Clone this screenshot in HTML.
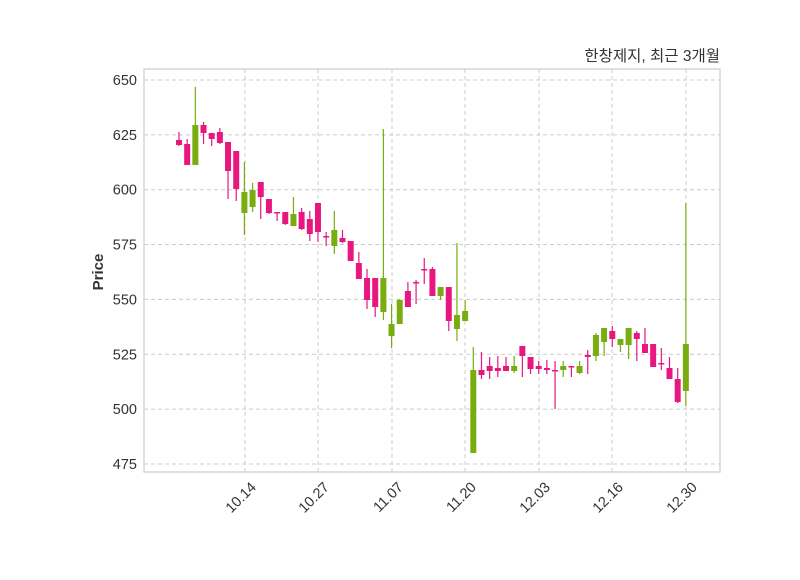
<!DOCTYPE html>
<html><head><meta charset="utf-8"><style>
body{margin:0;background:#fff}
svg text{font-family:"Liberation Sans","Noto Sans CJK KR",sans-serif;fill:#333}
</style></head><body>
<svg id="s" width="800" height="575" xmlns="http://www.w3.org/2000/svg">
<rect x="0" y="0" width="800" height="575" fill="#fff"/>
<rect x="144" y="69" width="576" height="403" fill="#fff" stroke="#d6d6d6" stroke-width="1.5"/>
<g id="grid" stroke="#cccccc" stroke-dasharray="4,3" stroke-width="1"></g>
<g id="c"></g>
<g id="lab" font-size="14.5"></g>
<text x="720" y="61" text-anchor="end" font-size="15.5">한창제지, 최근 3개월</text>
<text transform="translate(103,272) rotate(-90)" text-anchor="middle" font-size="15" font-weight="bold">Price</text>
</svg>
<script>
var ns="http://www.w3.org/2000/svg";
function el(p,t,a,txt){var e=document.createElementNS(ns,t);for(var k in a)e.setAttribute(k,a[k]);if(txt)e.textContent=txt;document.getElementById(p).appendChild(e);}
function yv(v){return 80+(650-v)*2.194;}
[650,625,600,575,550,525,500,475].forEach(function(v){var y=yv(v);
el("grid","line",{x1:144,x2:720,y1:y,y2:y});
el("lab","text",{x:137,y:y+5,"text-anchor":"end"},String(v));});
var xt=[[245,"10.14"],[318,"10.27"],[392,"11.07"],[465,"11.20"],[539,"12.03"],[612,"12.16"],[686,"12.30"]];
xt.forEach(function(t){el("grid","line",{x1:t[0],x2:t[0],y1:69,y2:472});
el("lab","text",{x:0,y:0,"text-anchor":"end",transform:"translate("+(t[0]+12)+",488) rotate(-45)"},t[1]);});
var d=[
[140,145,132,146,0],[144,165,139,165,0],[125,165,87,165,1],[125,133,122,144,0],[133,139,133,146,0],[132,143,128,144,0],
[142,171,142,199,0],[151,189,151,201,0],[192,213,162,235,1],[190,207,183,212,1],[182,197,182,219,0],[199,213,199,214,0],
[212,213,212,221,0],[212,224,212,225,0],[214,226,197,226,1],[212,229,208,230,0],[219,234,211,241,0],[203,232,203,242,0],
[236,237,232,246,0],[230,246,211,254,1],[238,242,230,243,0],[241,261,241,261,0],[263,279,252,279,0],[278,300,269,309,0],
[278,307,278,317,0],[278,312,129,320,1],[324,336,304,348,1],[300,324,299,324,1],[291,307,282,307,0],[282,283,280,304,0],
[269,270,258,284,0],[269,296,267,296,0],[287,296,287,300,1],[287,321,287,331,0],[315,329,243,341,1],[311,321,300,321,1],
[370,453,347,453,1],[370,375,352,379,0],[366,371,357,379,0],[368,371,356,377,0],[366,371,357,371,0],[366,371,356,373,1],
[346,356,346,377,0],[357,369,357,374,0],[366,369,361,374,0],[368,370,360,374,0],[370,371,361,409,0],[366,370,361,377,1],
[366,367,366,377,0],[366,373,361,374,1],[355,357,350,374,0],[335,356,333,361,1],[328,342,328,356,1],[331,339,326,347,0],
[339,345,339,352,1],[328,345,328,359,1],[333,339,331,361,0],[344,353,328,353,0],[344,367,344,367,0],[363,364,348,370,0],
[368,379,357,379,0],[379,402,368,403,0],[344,391,203,406,1]];
d.forEach(function(c,i){var x=179+8.175*i;var col=c[4]?"#78ac0f":"#e8177f";
el("c","line",{x1:x,x2:x,y1:c[2],y2:c[3],stroke:col,"stroke-width":1.2});
el("c","rect",{x:x-3,y:c[0],width:6,height:Math.max(1.5,c[1]-c[0]),fill:col});});
</script>
</body></html>
